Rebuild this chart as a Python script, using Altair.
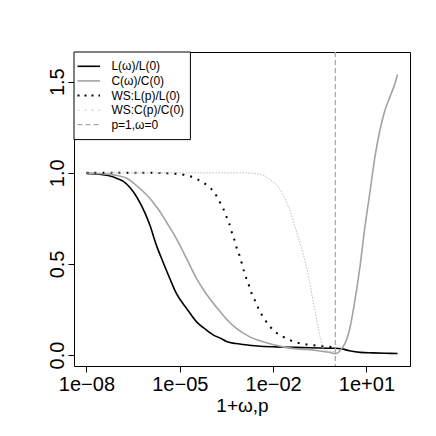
import altair as alt
import pandas as pd

# x values are log10(1+omega) / log10(p)
L_e = [-8.0, -7.6, -7.3, -7.0, -6.8, -6.61, -6.45, -6.29, -6.12, -5.96, -5.75, -5.54, -5.32, -5.11,
       -4.78, -4.46, -4.14, -3.9, -3.7, -3.5, -3.2, -2.96, -2.5, -1.89, -0.82, 0.0, 0.2, 0.45, 0.8, 1.2, 1.6, 2.0]
L_v = [0.997, 0.993, 0.985, 0.968, 0.952, 0.921, 0.885, 0.839, 0.78, 0.712, 0.602, 0.511, 0.42, 0.338,
       0.256, 0.182, 0.137, 0.108, 0.093, 0.075, 0.063, 0.058, 0.05, 0.045, 0.04, 0.037, 0.034, 0.024, 0.015, 0.012, 0.01, 0.009]

C_e = [-8.0, -7.5, -7.0, -6.7, -6.39, -6.1, -5.86, -5.63, -5.43, -5.11, -4.78, -4.46, -4.14, -3.71, -3.4,
       -3.18, -2.75, -2.32, -1.68, -1.14, -0.82, -0.5, -0.18, 0.0, 0.1, 0.2, 0.31, 0.47, 0.63, 0.79, 0.95,
       1.12, 1.27, 1.43, 1.59, 1.75, 1.91, 2.0]
C_v = [0.998, 0.995, 0.985, 0.97, 0.93, 0.885, 0.839, 0.785, 0.73, 0.639, 0.529, 0.42, 0.334, 0.24, 0.18,
       0.146, 0.10, 0.073, 0.045, 0.032, 0.03, 0.022, 0.015, 0.008, 0.015, 0.035, 0.064, 0.15, 0.301, 0.483, 0.702,
       0.903, 1.085, 1.231, 1.341, 1.414, 1.487, 1.54]

WL_e = [-8.0, -6.0, -5.5, -5.0, -4.75, -4.5, -4.25, -4.09, -3.91, -3.78, -3.66, -3.55, -3.47, -3.37, -3.31,
        -3.22, -3.16, -3.07, -3.0, -2.93, -2.86, -2.77, -2.69, -2.59, -2.48, -2.37, -2.24, -2.08, -1.89,
        -1.70, -1.46, -1.23, -0.98, -0.75, -0.5, -0.26, 0.0]
WL_v = [1.0, 1.0, 0.998, 0.993, 0.985, 0.97, 0.947, 0.927, 0.897, 0.861, 0.821, 0.784, 0.744, 0.702, 0.662,
        0.62, 0.58, 0.542, 0.498, 0.456, 0.42, 0.379, 0.338, 0.301, 0.259, 0.223, 0.188, 0.152, 0.122,
        0.102, 0.082, 0.068, 0.06, 0.055, 0.05, 0.046, 0.043]

WC_e = [-8.0, -3.0, -2.7, -2.37, -2.08, -1.82, -1.6, -1.43, -1.27, -1.11, -0.95, -0.85, -0.75, -0.65,
        -0.55, -0.44, -0.37, -0.2, 0.0]
WC_v = [1.0, 1.0, 0.998, 0.99, 0.96, 0.92, 0.85, 0.78, 0.69, 0.6, 0.5, 0.42, 0.33, 0.24,
        0.146, 0.07, 0.03, 0.022, 0.02]

vline_e = [0.0]

series_names = ["L(\u03c9)/L(0)", "C(\u03c9)/C(0)", "WS:L(p)/L(0)", "WS:C(p)/C(0)", "p=1,\u03c9=0"]

x_ticks = [-8, -5, -2, 1]
x_tick_labels = ["1e\u221208", "1e\u221205", "1e\u221202", "1e+01"]
y_ticks = [0.0, 0.5, 1.0, 1.5]

FONT = "Liberation Sans"

label_expr = " : ".join(
    f"datum.value == {v} ? '{t}'" for v, t in zip(x_ticks[:-1], x_tick_labels[:-1])
) + f" : '{x_tick_labels[-1]}'"

xscale = alt.Scale(domain=[-8.4, 2.4], nice=False, zero=False)
yscale = alt.Scale(domain=[-0.06, 1.663], nice=False, zero=False)

xaxis = alt.Axis(values=x_ticks, labelExpr=label_expr, title="1+\u03c9,p", grid=False, domain=False,
                 tickSize=6, tickColor="black", tickWidth=1, labelFontSize=20, labelFont=FONT,
                 labelColor="black", labelPadding=2, labelFlush=False, labelOverlap=False,
                 titleFont=FONT, titleFontSize=19, titleFontWeight="normal", titleColor="black",
                 titleY=45, titleBaseline="alphabetic")
yaxis = alt.Axis(values=y_ticks, format=".1f", title=None, grid=False, domain=False,
                 tickSize=6, tickColor="black", tickWidth=1, labelFontSize=20, labelFont=FONT,
                 labelColor="black", labelAngle=270, labelAlign="center", labelBaseline="alphabetic",
                 labelPadding=5, labelFlush=False, labelOverlap=False)

X = alt.X("e:Q", scale=xscale, axis=xaxis)
Y = alt.Y("v:Q", scale=yscale, axis=yaxis)


def line_layer(e, v, color, width, dash=None):
    kw = dict(color=color, strokeWidth=width, clip=True, interpolate="monotone")
    if dash:
        kw["strokeDash"] = dash
    return alt.Chart(pd.DataFrame({"e": e, "v": v})).mark_line(**kw).encode(x=X, y=Y)


styles = [
    dict(color="black", width=1.6, dash=None, leg_dash=None),
    dict(color="#a3a3a3", width=1.6, dash=None, leg_dash=None),
    dict(color="black", width=2, dash=[2, 6], leg_dash=[2, 5]),
    dict(color="#bdbdbd", width=1, dash=[1.5, 1.5], leg_dash=[2, 5]),
    dict(color="#aaaaaa", width=1.3, dash=[5, 3], leg_dash=[5, 3]),
]

layers = [
    line_layer(L_e, L_v, styles[0]["color"], styles[0]["width"]),
    line_layer(C_e, C_v, styles[1]["color"], styles[1]["width"]),
    line_layer(WL_e, WL_v, styles[2]["color"], styles[2]["width"], styles[2]["dash"]),
    line_layer(WC_e, WC_v, styles[3]["color"], styles[3]["width"], styles[3]["dash"]),
    alt.Chart(pd.DataFrame({"e": vline_e})).mark_rule(
        color=styles[4]["color"], strokeWidth=styles[4]["width"], strokeDash=styles[4]["dash"]
    ).encode(x=X),
]

# legend (top-left, R style box)
one = pd.DataFrame({"k": [0]})
LEG_W, LEG_H, ROW = 116.4, 87.6, 14.6
layers.append(
    alt.Chart(one).mark_rect(fill="white", stroke="black", strokeWidth=1).encode(
        x=alt.value(0), x2=alt.value(LEG_W), y=alt.value(0), y2=alt.value(LEG_H))
)
for i, (name, st) in enumerate(zip(series_names, styles)):
    yy = ROW * (i + 1) - 0.3
    kw = dict(color=st["color"], strokeWidth=st["width"])
    if st["leg_dash"]:
        kw["strokeDash"] = st["leg_dash"]
    layers.append(alt.Chart(one).mark_rule(**kw).encode(
        x=alt.value(3.5), x2=alt.value(26), y=alt.value(yy)))
    layers.append(alt.Chart(one).mark_text(
        align="left", baseline="middle", font=FONT, fontSize=12, color="black"
    ).encode(x=alt.value(37.4), y=alt.value(yy), text=alt.value(name)))

chart = alt.layer(*layers).properties(
    width=336, height=314,
    autosize=alt.AutoSizeParams(type="none"),
    padding={"left": 66, "top": 44, "right": 18, "bottom": 62},
    background="white",
).configure_view(stroke="black", strokeWidth=1)

chart.save("out.html", embed_options={"renderer": "svg", "actions": False})
